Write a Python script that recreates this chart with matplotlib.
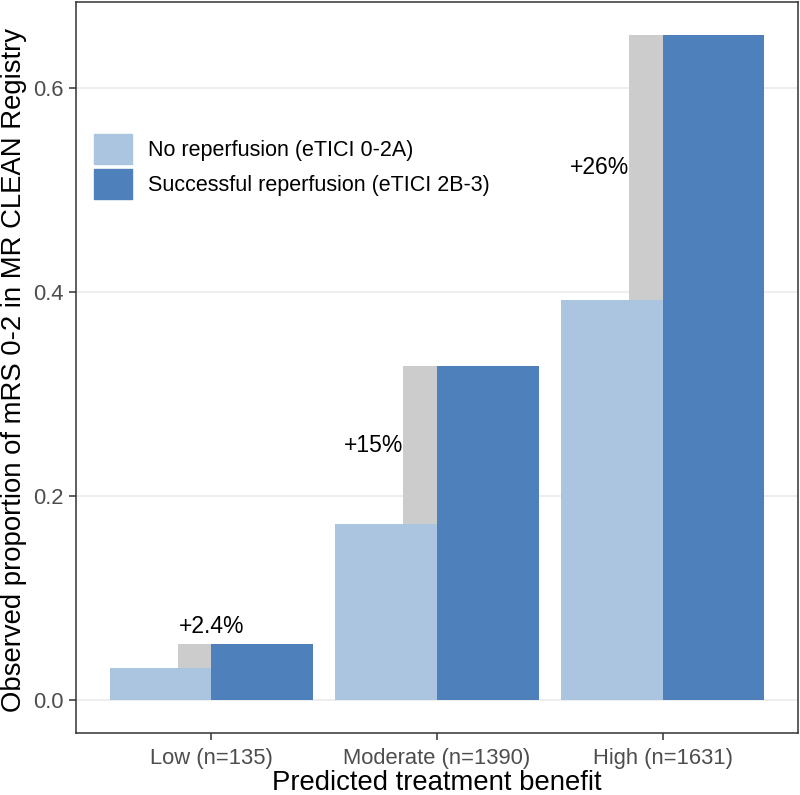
import numpy as np
import matplotlib
matplotlib.use('Agg')
from matplotlib import pyplot as plt
from matplotlib.patches import Patch

plt.rcParams['font.family'] = ['Liberation Sans', 'DejaVu Sans']

# data
groups = ['Low (n=135)', 'Moderate (n=1390)', 'High (n=1631)']
no_reperf = [0.031, 0.172, 0.392]
success_reperf = [0.055, 0.327, 0.652]
diff_labels = ['+2.4%', '+15%', '+26%']

c_light = '#abc4e0'
c_dark = '#4e80bb'
c_gray = '#cccccc'

fig = plt.figure(figsize=(8, 7.95), dpi=100)
ax = fig.add_axes([0.095, 0.078, 0.9025, 0.9195])

x = np.arange(len(groups))
w = 0.45

# gray difference bars (right third of the light bar)
ax.bar(x - w / 6, np.array(success_reperf) - np.array(no_reperf), width=w / 3,
       bottom=no_reperf, color=c_gray, zorder=2)
ax.bar(x - w / 2, no_reperf, width=w, color=c_light, zorder=3)
ax.bar(x + w / 2, success_reperf, width=w, color=c_dark, zorder=3)

# annotations
for i in range(len(groups)):
    if i == 0:
        ax.text(x[i], success_reperf[i] + 0.017, diff_labels[i],
                ha='center', va='center', fontsize=16.5)
    else:
        ax.text(x[i] - w / 3, (no_reperf[i] + success_reperf[i]) / 2, diff_labels[i],
                ha='right', va='center', fontsize=16.5)

ax.set_xlim(-0.6, 2.6)
ax.set_ylim(-0.0326, 0.6846)
ax.set_xticks(x)
ax.set_xticklabels(groups)
ax.set_yticks([0.0, 0.2, 0.4, 0.6])
ax.set_yticklabels(['0.0', '0.2', '0.4', '0.6'])
ax.tick_params(axis='both', colors='#333333', labelcolor='#4d4d4d',
               labelsize=15.8, length=5, width=1.1)
ax.tick_params(axis='x', pad=6)
ax.tick_params(axis='y', pad=4)
ax.grid(axis='y', color='#ebebeb', linewidth=1.2, zorder=0)
ax.set_axisbelow(True)
for s in ax.spines.values():
    s.set_color('#333333')
    s.set_linewidth(1.1)

# axis titles
fig.text(0.5465, 5 / 795, 'Predicted treatment benefit', fontsize=19.8,
         ha='center', va='baseline')
fig.text(21 / 800, 1 - 370 / 795, 'Observed proportion of mRS 0-2 in MR CLEAN Registry',
         fontsize=19.8, rotation=90, rotation_mode='anchor', ha='center', va='baseline')

handles = [Patch(color=c_light), Patch(color=c_dark)]
ax.legend(handles, ['No reperfusion (eTICI 0-2A)', 'Successful reperfusion (eTICI 2B-3)'],
          loc='upper left', bbox_to_anchor=(0.025, 0.819), frameon=False,
          fontsize=15.5, handlelength=1.77, handleheight=1.77, labelspacing=0.23,
          handletextpad=0.74, borderpad=0, borderaxespad=0)

fig.savefig('out.png', dpi=100)
